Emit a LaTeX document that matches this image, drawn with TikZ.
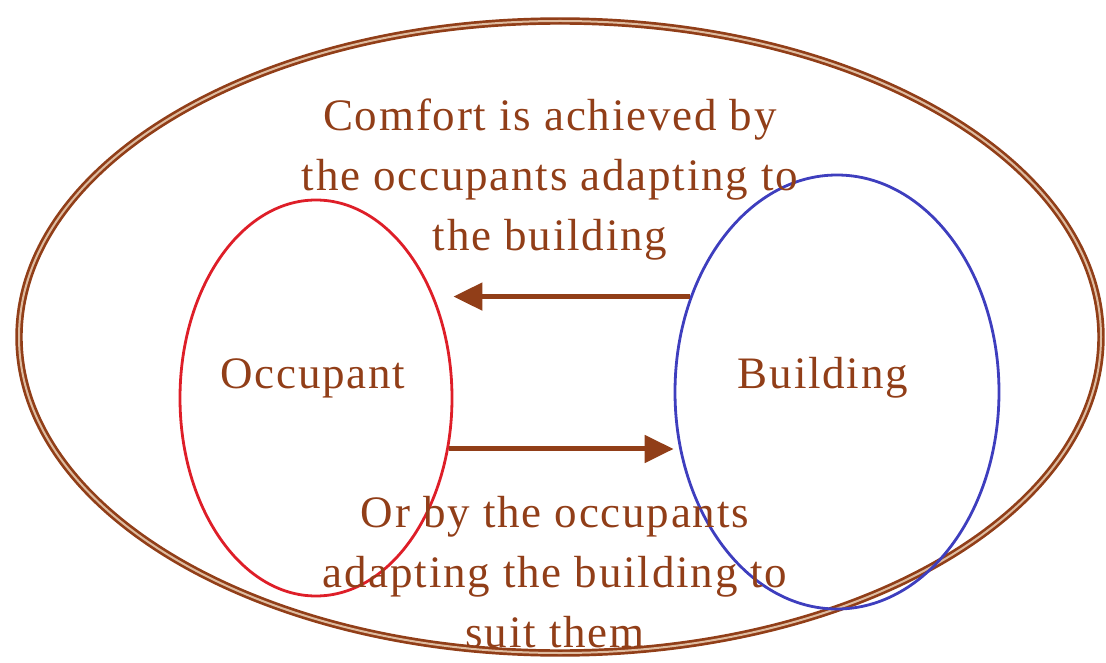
\documentclass[tikz,border=0pt]{standalone}
\usepackage{fontspec}
\setmainfont{Liberation Serif}[LetterSpace=4]
\usepackage{tikz}
\usetikzlibrary{shapes.geometric, arrows.meta, positioning, calc}
\definecolor{rustbrown}{RGB}{145,62,24}
\definecolor{tanline}{RGB}{222,188,160}
\definecolor{occred}{RGB}{222,30,40}
\definecolor{bldblue}{RGB}{62,62,190}

\begin{document}
\begin{tikzpicture}[
  x=1pt, y=-1pt,
  oval/.style={
    ellipse, inner sep=0pt, line width=2.8pt, draw=#1
  },
  caption/.style={
    text=rustbrown, align=center, inner sep=0pt,
    font=\fontsize{45}{60}\selectfont
  },
  flow/.style={-{Triangle[length=29pt, width=27pt]}, line width=5pt, draw=rustbrown}
]

\useasboundingbox (0,0) rectangle (1106,663);

\node[oval=rustbrown, line width=2.7pt, double=tanline, double distance=2pt,
  minimum width=1082, minimum height=632] (comfort) at (560,337) {};
\node[oval=occred, minimum width=272, minimum height=396] (occupant) at (316,398) {};
\node[oval=bldblue, minimum width=324, minimum height=434] (building) at (837,392) {};

\node[caption] (occlabel) at (313,378) {Occupant};
\node[caption] (bldlabel) at (823,378) {Building};
\node[caption] (toptext) at (550,180) {Comfort is achieved by\\the occupants adapting to\\the building};
\node[caption] (bottext) at (555,572) {Or by the occupants\\adapting the building to\\suit them};

\draw[flow] (building.147) -- (building.147 -| occupant.east);
\draw[flow] (occupant.-21) -- (occupant.-21 -| building.west);

\end{tikzpicture}
\end{document}
